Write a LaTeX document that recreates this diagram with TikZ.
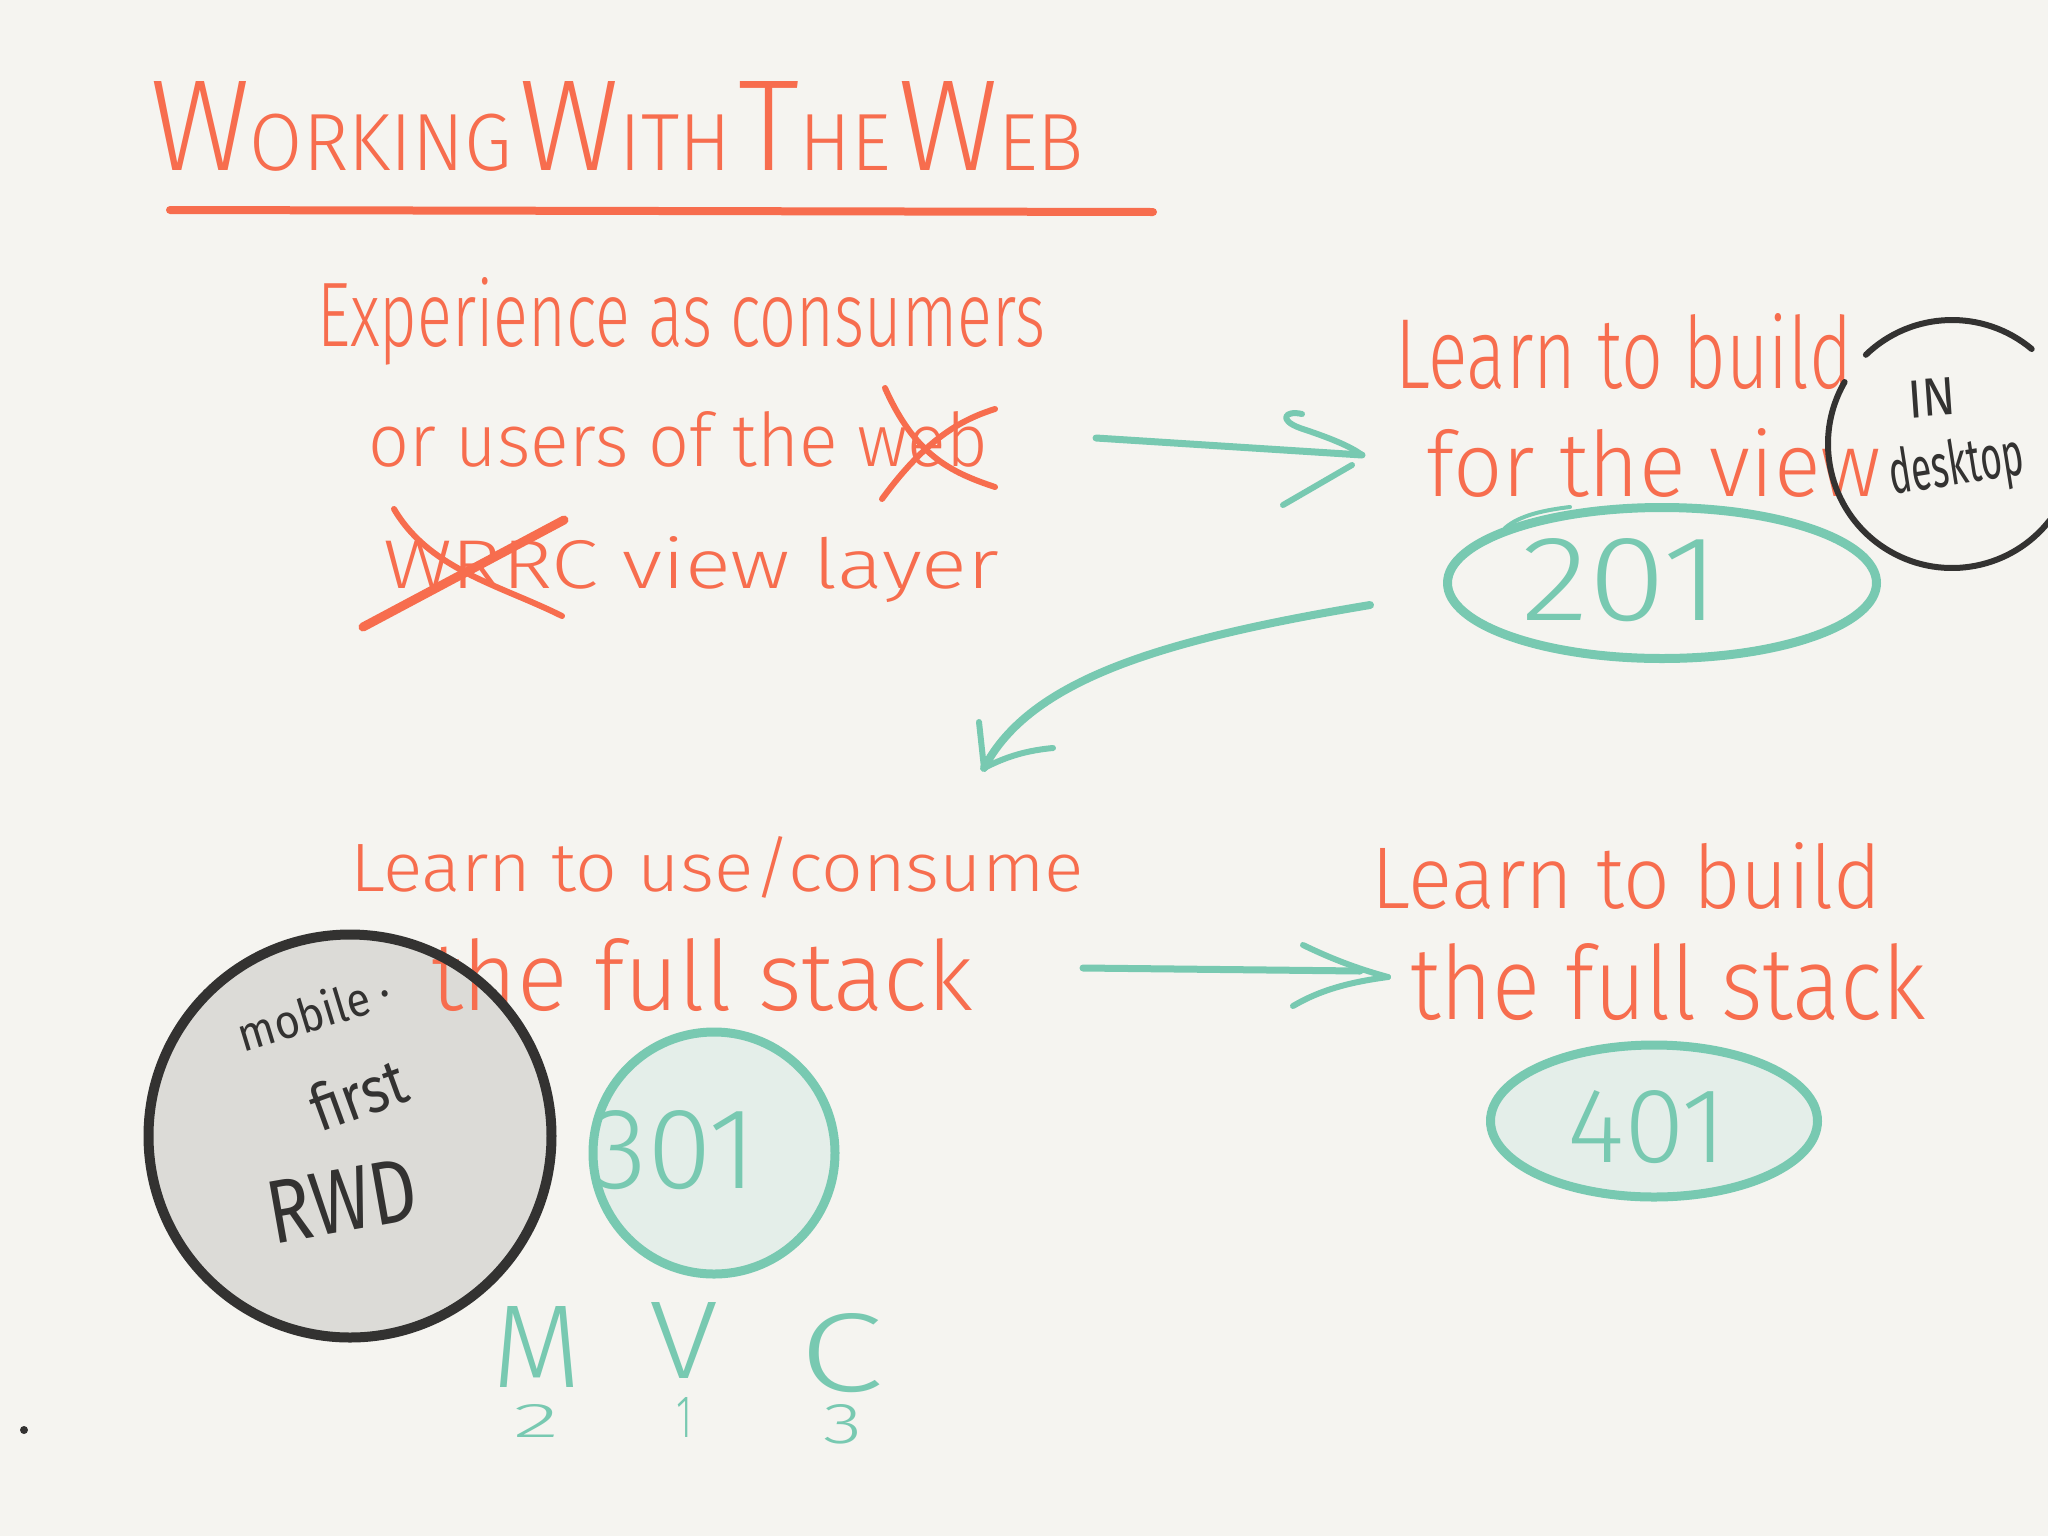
\documentclass[tikz,border=0pt]{standalone}
\usepackage{fontspec}
\setmainfont{Fira Sans}
\newfontfamily\handfont{Fira Sans Light}
\usetikzlibrary{shapes.geometric,calc}

\definecolor{paper}{HTML}{F5F4F0}
\definecolor{ink}{HTML}{F76D4E}
\definecolor{mint}{HTML}{78C9B1}
\definecolor{mintfill}{HTML}{E4EEE9}
\definecolor{pen}{HTML}{333231}
\definecolor{disc}{HTML}{DCDBD7}

% one drawing unit = one pixel of a 2048 x 1536 canvas
\newlength{\pxu}
\setlength{\pxu}{0.01cm}
% handwritten-looking text squeezed to a given width and height (in px)
\newcommand{\hw}[3]{\resizebox{#1\pxu}{#2\pxu}{#3}}
\newcommand{\TitleBig}[1]{{\fontsize{40}{40}\selectfont #1}}
\newcommand{\TitleSmall}[1]{{\fontsize{25}{25}\selectfont #1}}

\tikzset{
  orangetext/.style={inner sep=0pt, outer sep=0pt, text=ink, anchor=base west, font=\handfont},
  minttext/.style={inner sep=0pt, outer sep=0pt, text=mint, anchor=base west, font=\handfont},
  pentext/.style={inner sep=0pt, outer sep=0pt, text=pen},
  strike/.style={draw=ink, line width=6\pxu, line cap=round, line join=round},
  arrowline/.style={draw=mint, line width=7\pxu, line cap=round, line join=round},
  barb/.style={draw=mint, line width=6\pxu, line cap=round, line join=round},
  ring/.style={draw=mint, line width=9\pxu},
}

\begin{document}
\begin{tikzpicture}[x=0.01cm, y=-0.01cm]
\useasboundingbox (0,0) rectangle (2048,1536);
\fill[paper] (0,0) rectangle (2048,1536);

% ---- title and underline
\node[orangetext] (title) at (150,170)
  {\hw{934}{89}{\TitleBig{W}\TitleSmall{ORKING}\hspace{0.25em}\TitleBig{W}\TitleSmall{ITH}\hspace{0.25em}\TitleBig{T}\TitleSmall{HE}\hspace{0.25em}\TitleBig{W}\TitleSmall{EB}}};
\draw[ink, line width=8\pxu, line cap=round] (170,210) -- (1153,212);

% ---- first block
\node[orangetext] (exp1) at (317,346) {\hw{728}{69}{Experience as consumers}};
\node[orangetext] (exp2) at (368,466) {\hw{620}{55}{or users of the web}};
\node[orangetext] (exp3) at (383,588) {\hw{616}{52}{WRRC view layer}};
\draw[strike] (885,388) .. controls (915,455) and (950,472) .. (995,487);
\draw[strike] (882,499) .. controls (925,440) and (960,420) .. (995,409);
\draw[strike] (394,509) .. controls (430,570) and (500,585) .. (562,616);
\draw[strike, line width=9\pxu] (363,627) -- (564,520);

% ---- learn to build for the view
\node[orangetext] (view1) at (1395,388) {\hw{457}{75}{Learn to build}};
\node[orangetext] (view2) at (1426,496) {\hw{455}{68}{for the view}};
\node[ellipse, ring, minimum width=429\pxu, minimum height=151\pxu, inner sep=0pt] (e201) at (1662,583) {};
\draw[mint, line width=4\pxu, line cap=round] (1505,528) .. controls (1520,515) and (1545,510) .. (1570,507);
\node[minttext] (n201) at (1521,620) {\hw{200}{82}{201}};

% ---- "IN desktop" ring
\coordinate (dc) at (1952,444);
\draw[pen, line width=6\pxu, line cap=round] ($(dc)+(-134:124)$) arc[start angle=-134, end angle=-50, radius=124];
\draw[pen, line width=6\pxu, line cap=round] ($(dc)+(-150:124)$) arc[start angle=-150, end angle=-322, radius=124];
\node[pentext, anchor=base west, rotate=4] (inlbl) at (1909,418) {\hw{48}{37}{IN}};
\node[pentext, rotate=9] (desk) at (1957,468) {\hw{135}{46}{desktop}};

% ---- arrow: consumers -> view
\coordinate (a1s) at (1096,438);
\coordinate (a1e) at (1362,455);
\draw[arrowline] (a1s) -- (a1e);
\draw[barb] (1302,414) .. controls (1285,410) and (1278,420) .. (1300,428)
  .. controls (1330,438) and (1350,446) .. (a1e);
\draw[barb] (1283,505) -- (1352,465);

% ---- curved arrow: 201 -> full stack
\coordinate (a2s) at (1370,605);
\coordinate (a2e) at (984,768);
\draw[arrowline, line width=8\pxu] (a2s) .. controls (1160,640) and (1030,680) .. (a2e);
\draw[barb] (979,722) -- (a2e);
\draw[barb] (1053,748) .. controls (1020,751) and (1000,760) .. (a2e);

% ---- mobile first disc (fill first, outline over the text)
\node[circle, fill=disc, minimum size=403\pxu, inner sep=0pt] (rwd) at (350,1136) {};

% ---- learn to use / consume the full stack
\node[orangetext] (use1) at (350,891) {\hw{734}{55}{Learn to use/consume}};
\node[orangetext] (use2) at (431,1010) {\hw{542}{72}{the full stack}};

\draw[pen, line width=10\pxu] (rwd.center) circle[radius=201.5];
\node[pentext, rotate=17] (mob) at (314,1012) {\hw{158}{37}{mobile ·}};
\node[pentext, rotate=20] (first) at (358,1094) {\hw{98}{48}{first}};
\node[pentext, rotate=10] (rwdlbl) at (342,1201) {\hw{150}{62}{RWD}};

% ---- 301 and MVC
\node[circle, ring, fill=mintfill, minimum size=242\pxu, inner sep=0pt] (c301) at (714,1153) {};
\node[minttext] (n301) at (590,1188) {\hw{167}{78}{301}};
\node[minttext] (mm) at (492,1387) {\hw{89}{81}{M}};
\node[minttext] (vv) at (649,1378) {\hw{69}{76}{V}};
\node[minttext] (cc) at (799,1391) {\hw{84}{78}{C}};
\node[minttext] (m2) at (513,1437) {\hw{46}{33}{2}};
\node[minttext] (v1) at (676,1437) {\hw{16}{40}{1}};
\node[minttext] (c3) at (823,1443) {\hw{39}{39}{3}};

% ---- arrow: full stack -> build full stack
\coordinate (a3s) at (1083,968);
\coordinate (a3e) at (1360,971);
\coordinate (a3t) at (1388,977);
\draw[arrowline] (a3s) -- (a3e);
\draw[barb] (1303,945) .. controls (1330,958) and (1355,968) .. (a3t);
\draw[barb] (1293,1006) .. controls (1320,990) and (1350,982) .. (a3t);

% ---- learn to build the full stack
\node[orangetext] (full1) at (1371,908) {\hw{510}{66}{Learn to build}};
\node[orangetext] (full2) at (1410,1019) {\hw{516}{76}{the full stack}};
\node[ellipse, ring, fill=mintfill, minimum width=327\pxu, minimum height=152\pxu, inner sep=0pt] (e401) at (1654,1121) {};
\node[minttext] (n401) at (1567,1162) {\hw{160}{72}{401}};

% ---- stray dot
\fill[pen] (24,1430) circle[radius=4];
\end{tikzpicture}
\end{document}
